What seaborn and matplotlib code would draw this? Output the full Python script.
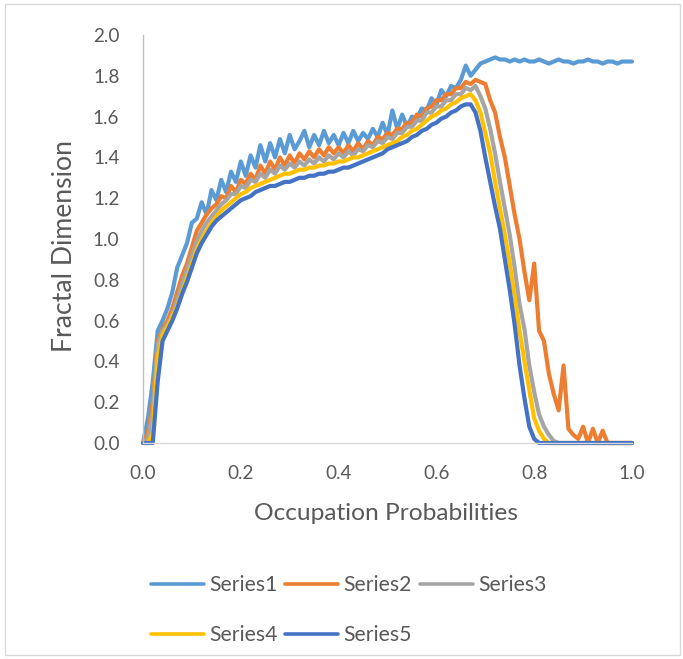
import numpy as np
import pandas as pd
import matplotlib
matplotlib.use("Agg")
import matplotlib.pyplot as plt
import seaborn as sns
from matplotlib.lines import Line2D
from matplotlib.patches import Rectangle

# ---- data ----
p = np.round(np.arange(101) * 0.01, 2)

series1 = [0.00, 0.12, 0.30, 0.55, 0.60, 0.66, 0.74, 0.86, 0.92, 0.98,
           1.08, 1.10, 1.18, 1.12, 1.24, 1.19, 1.29, 1.23, 1.33, 1.28,
           1.38, 1.31, 1.41, 1.35, 1.46, 1.38, 1.47, 1.40, 1.49, 1.42,
           1.51, 1.44, 1.48, 1.53, 1.45, 1.51, 1.46, 1.53, 1.47, 1.51,
           1.46, 1.52, 1.47, 1.53, 1.48, 1.52, 1.49, 1.54, 1.50, 1.57,
           1.51, 1.63, 1.54, 1.61, 1.55, 1.60, 1.59, 1.64, 1.63, 1.69,
           1.66, 1.73, 1.70, 1.75, 1.74, 1.78, 1.85, 1.80, 1.83, 1.86,
           1.87, 1.88, 1.89, 1.88, 1.88, 1.87, 1.88, 1.87, 1.88, 1.87,
           1.87, 1.88, 1.87, 1.86, 1.87, 1.88, 1.87, 1.87, 1.86, 1.87,
           1.87, 1.88, 1.87, 1.87, 1.86, 1.87, 1.87, 1.86, 1.87, 1.87,
           1.87]
series2 = [0.00, 0.05, 0.20, 0.50, 0.56, 0.60, 0.66, 0.74, 0.82, 0.88,
           0.96, 1.04, 1.08, 1.12, 1.15, 1.17, 1.21, 1.20, 1.26, 1.23,
           1.29, 1.27, 1.32, 1.29, 1.36, 1.32, 1.38, 1.34, 1.40, 1.36,
           1.41, 1.37, 1.42, 1.39, 1.43, 1.40, 1.44, 1.41, 1.45, 1.42,
           1.45, 1.42, 1.46, 1.43, 1.47, 1.44, 1.48, 1.46, 1.50, 1.49,
           1.52, 1.51, 1.54, 1.54, 1.57, 1.57, 1.61, 1.60, 1.64, 1.65,
           1.68, 1.68, 1.71, 1.71, 1.74, 1.74, 1.77, 1.76, 1.78, 1.77,
           1.76, 1.68, 1.62, 1.50, 1.40, 1.26, 1.12, 1.00, 0.84, 0.70,
           0.88, 0.55, 0.50, 0.34, 0.24, 0.16, 0.38, 0.07, 0.04, 0.02,
           0.08, 0.00, 0.07, 0.00, 0.06, 0.00, 0.00, 0.00, 0.00, 0.00,
           0.00]
series3 = [0.00, 0.02, 0.15, 0.48, 0.55, 0.58, 0.63, 0.70, 0.78, 0.85,
           0.92, 0.99, 1.04, 1.08, 1.11, 1.14, 1.17, 1.19, 1.22, 1.22,
           1.26, 1.25, 1.29, 1.28, 1.32, 1.30, 1.34, 1.32, 1.36, 1.34,
           1.37, 1.35, 1.38, 1.36, 1.39, 1.37, 1.40, 1.38, 1.41, 1.39,
           1.42, 1.40, 1.43, 1.41, 1.44, 1.43, 1.46, 1.45, 1.48, 1.47,
           1.50, 1.49, 1.52, 1.52, 1.55, 1.55, 1.58, 1.58, 1.62, 1.62,
           1.65, 1.65, 1.68, 1.68, 1.71, 1.71, 1.74, 1.73, 1.75, 1.70,
           1.64, 1.54, 1.42, 1.28, 1.15, 1.02, 0.86, 0.68, 0.56, 0.38,
           0.25, 0.14, 0.08, 0.04, 0.01, 0.00, 0.00, 0.00, 0.00, 0.00,
           0.00, 0.00, 0.00, 0.00, 0.00, 0.00, 0.00, 0.00, 0.00, 0.00,
           0.00]
series4 = [0.00, 0.00, 0.05, 0.42, 0.53, 0.57, 0.62, 0.67, 0.74, 0.81,
           0.88, 0.95, 1.00, 1.04, 1.08, 1.11, 1.14, 1.16, 1.18, 1.20,
           1.22, 1.23, 1.25, 1.26, 1.27, 1.28, 1.29, 1.30, 1.31, 1.32,
           1.32, 1.33, 1.34, 1.34, 1.35, 1.35, 1.36, 1.36, 1.37, 1.37,
           1.38, 1.38, 1.39, 1.40, 1.40, 1.41, 1.42, 1.43, 1.44, 1.45,
           1.46, 1.47, 1.48, 1.50, 1.51, 1.53, 1.54, 1.56, 1.58, 1.60,
           1.61, 1.63, 1.64, 1.66, 1.67, 1.69, 1.70, 1.71, 1.68, 1.62,
           1.52, 1.42, 1.28, 1.15, 1.02, 0.88, 0.72, 0.55, 0.40, 0.26,
           0.12, 0.06, 0.02, 0.00, 0.00, 0.00, 0.00, 0.00, 0.00, 0.00,
           0.00, 0.00, 0.00, 0.00, 0.00, 0.00, 0.00, 0.00, 0.00, 0.00,
           0.00]
series5 = [0.00, 0.00, 0.00, 0.30, 0.50, 0.55, 0.60, 0.66, 0.73, 0.79,
           0.86, 0.93, 0.98, 1.02, 1.06, 1.09, 1.11, 1.13, 1.15, 1.17,
           1.19, 1.20, 1.21, 1.23, 1.24, 1.25, 1.26, 1.26, 1.27, 1.28,
           1.28, 1.29, 1.30, 1.30, 1.31, 1.31, 1.32, 1.32, 1.33, 1.33,
           1.34, 1.35, 1.35, 1.36, 1.37, 1.38, 1.39, 1.40, 1.41, 1.42,
           1.44, 1.45, 1.46, 1.47, 1.48, 1.50, 1.51, 1.53, 1.54, 1.56,
           1.57, 1.59, 1.60, 1.62, 1.63, 1.65, 1.66, 1.66, 1.62, 1.53,
           1.40, 1.28, 1.16, 1.05, 0.90, 0.75, 0.58, 0.38, 0.22, 0.08,
           0.02, 0.00, 0.00, 0.00, 0.00, 0.00, 0.00, 0.00, 0.00, 0.00,
           0.00, 0.00, 0.00, 0.00, 0.00, 0.00, 0.00, 0.00, 0.00, 0.00,
           0.00]

names = ["Series1", "Series2", "Series3", "Series4", "Series5"]
colors = ["#5B9BD5", "#ED7D31", "#A5A5A5", "#FFC000", "#4472C4"]
x_ticks = [0.0, 0.2, 0.4, 0.6, 0.8, 1.0]
y_ticks = [0.0, 0.2, 0.4, 0.6, 0.8, 1.0, 1.2, 1.4, 1.6, 1.8, 2.0]
x_title = "Occupation Probabilities"
y_title = "Fractal Dimension"

frames = []
for n, vals in zip(names, [series1, series2, series3, series4, series5]):
    frames.append(pd.DataFrame({"p": p, "D": vals, "series": n}))
df = pd.concat(frames, ignore_index=True)

# ---- plotting ----
sns.set_style("white")
FONT = ["Lato", "DejaVu Sans"]
plt.rcParams["font.family"] = FONT
TXT = "#595959"

fig = plt.figure(figsize=(6.83, 6.59), dpi=100)
renderer = fig.canvas.get_renderer()


def fit_size(s, target_px, base=14.0):
    t = fig.text(0, 0, s, fontsize=base)
    w = t.get_window_extent(renderer).width
    t.remove()
    return base * target_px / w


fs_tick = fit_size("2.0", 26.5)
fs_xlab = fit_size(x_title, 265)
fs_ylab = fit_size(y_title, 213)
fs_leg = fit_size("Series1", 68)

ax = fig.add_axes([143 / 683, 1 - 443 / 659, 489 / 683, 408 / 659])

sns.lineplot(data=df, x="p", y="D", hue="series", hue_order=names,
             palette=colors, linewidth=3.0, estimator=None, sort=True,
             legend=False, ax=ax)
for ln in ax.get_lines():
    ln.set_clip_on(False)
    ln.set_solid_joinstyle("round")

ax.set_xlim(0, 1.0)
ax.set_ylim(0, 2.0)
ax.set_xticks(x_ticks)
ax.set_yticks(y_ticks)
ax.set_xticklabels([f"{v:.1f}" for v in x_ticks])
ax.set_yticklabels([f"{v:.1f}" for v in y_ticks])
ax.tick_params(axis="both", length=0, labelsize=fs_tick, colors=TXT)
ax.tick_params(axis="y", pad=17)
ax.tick_params(axis="x", pad=16)
ax.set_xlabel(x_title, fontsize=fs_xlab, color=TXT)
ax.set_ylabel(y_title, fontsize=fs_ylab, color=TXT)
ax.xaxis.set_label_coords((385.5 - 143) / 489, -(514 - 443) / 408)
ax.yaxis.set_label_coords(-(143 - 64) / 489, (443 - 246) / 408)
ax.xaxis.label.set_va("center")
ax.yaxis.label.set_va("center")

for s in ["top", "right"]:
    ax.spines[s].set_visible(False)
ax.spines["left"].set_color("#BFBFBF")
ax.spines["bottom"].set_color("#D9D9D9")
ax.spines["left"].set_linewidth(1.0)
ax.spines["bottom"].set_linewidth(1.0)

# legend (row-major order like the reference)
handles = [Line2D([0], [0], color=c, lw=2.6) for c in colors]
order = [0, 3, 1, 4, 2]
em = fs_leg * 100 / 72
leg = fig.legend([handles[i] for i in order], [names[i] for i in order],
                 ncol=3, loc="upper left",
                 bbox_to_anchor=(132 / 683, 1 - 556 / 659),
                 frameon=False, fontsize=fs_leg,
                 handlelength=53 / em,
                 handletextpad=5 / em,
                 columnspacing=8 / em,
                 labelspacing=1.42, labelcolor=TXT)

fig.patches.append(Rectangle((5 / 683, 4 / 659), 675 / 683, 651 / 659,
                             transform=fig.transFigure, fill=False,
                             edgecolor="#D9D9D9", linewidth=1.0))

fig.savefig("out.png", dpi=100, facecolor="white")
